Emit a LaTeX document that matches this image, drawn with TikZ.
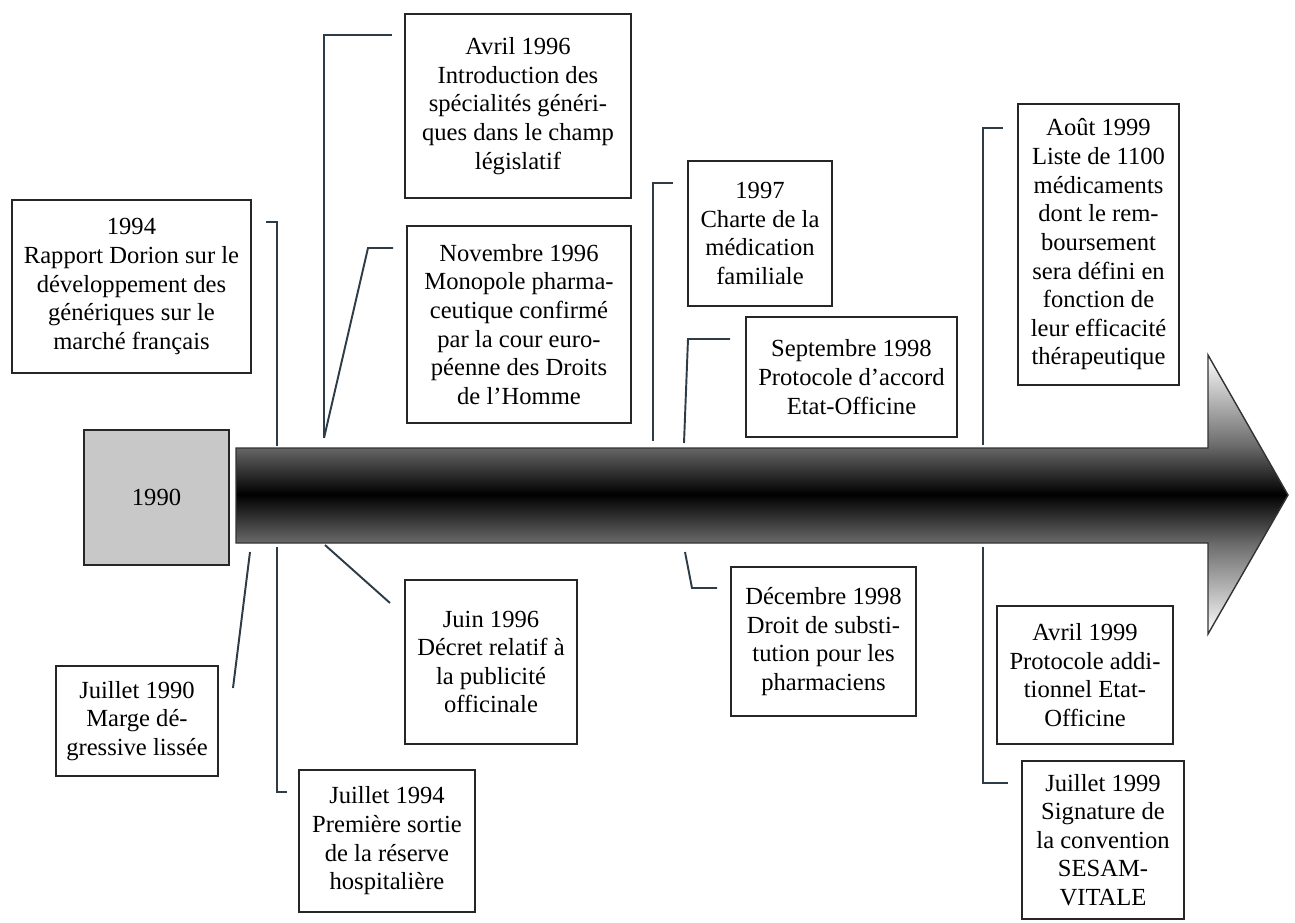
\documentclass[tikz,border=0pt]{standalone}
\usepackage{fontspec}
\setmainfont{Liberation Serif}
\usetikzlibrary{shapes, shadings}
\pgfdeclareverticalshading{tube}{100bp}{color(0bp)=(white); color(25bp)=(white); color(41bp)=(black!57); color(50bp)=(black); color(59bp)=(black!57); color(75bp)=(white); color(100bp)=(white)}
\definecolor{linkcol}{RGB}{45,60,70}
\definecolor{boxgray}{RGB}{200,200,200}

\begin{document}
\begin{tikzpicture}[x=0.02cm, y=-0.02cm,
	evt/.style={draw=black!85, line width=1.1pt, fill=white, align=center, inner sep=0pt, font=\fontsize{14}{16.3}\selectfont},
	link/.style={draw=linkcol, line width=1.1pt}]
		\useasboundingbox (0,0) rectangle (1295,923);

		% Time arrow
		\shadedraw[shading=tube, draw=black!80, line width=0.8pt] (236,448) -- (1208,448) -- (1208,355) -- (1288,495) -- (1208,634) -- (1208,543) -- (236,543) -- cycle;

		% Start year
		\node[evt, fill=boxgray, minimum width=2.90cm, minimum height=2.70cm] (y90) at (156.5,497.5) {1990};

		% Events above the arrow
		\node[evt, minimum width=4.78cm, minimum height=3.46cm] (r94) at (131.5,286.5) {1994\\Rapport Dorion sur le\\développement des\\génériques sur le\\marché français};
		\node[evt, minimum width=4.52cm, minimum height=3.68cm] (avr96) at (518,106) {Avril 1996\\Introduction des\\spécialités généri-\\ques dans le champ\\législatif};
		\node[evt, minimum width=4.48cm, minimum height=3.94cm] (nov96) at (519,324.5) {Novembre 1996\\Monopole pharma-\\ceutique confirmé\\par la cour euro-\\péenne des Droits\\de l’Homme};
		\node[evt, minimum width=2.88cm, minimum height=2.90cm] (c97) at (760,233.5) {1997\\Charte de la\\médication\\familiale};
		\node[evt, minimum width=4.22cm, minimum height=2.40cm] (sep98) at (851.5,377) {Septembre 1998\\Protocole d’accord\\Etat-Officine};
		\node[evt, minimum width=3.22cm, minimum height=5.62cm] (aou99) at (1098.5,244.5) {Août 1999\\Liste de 1100\\médicaments\\dont le rem-\\boursement\\sera défini en\\fonction de\\leur efficacité\\thérapeutique};

		% Events below the arrow
		\node[evt, minimum width=3.24cm, minimum height=2.20cm] (jul90) at (137,721) {Juillet 1990\\Marge dé-\\gressive lissée};
		\node[evt, minimum width=3.52cm, minimum height=2.84cm] (jul94) at (387,841) {Juillet 1994\\Première sortie\\de la réserve\\hospitalière};
		\node[evt, minimum width=3.44cm, minimum height=3.28cm] (jun96) at (491,662) {Juin 1996\\Décret relatif à\\la publicité\\officinale};
		\node[evt, minimum width=3.70cm, minimum height=2.98cm] (dec98) at (823.5,641.5) {Décembre 1998\\Droit de substi-\\tution pour les\\pharmaciens};
		\node[evt, minimum width=3.52cm, minimum height=2.76cm] (avr99) at (1085,675) {Avril 1999\\Protocole addi-\\tionnel Etat-\\Officine};
		\node[evt, minimum width=3.24cm, minimum height=3.16cm] (jul99) at (1103,840) {Juillet 1999\\Signature de\\la convention\\SESAM-\\VITALE};

		% Connector ends
		\coordinate (r94a) at (266,222);   \coordinate (r94b) at (277,446);
		\coordinate (jul94a) at (287,792); \coordinate (jul94b) at (277,547);
		\coordinate (avr96a) at (392,35);  \coordinate (m96) at (324,438);
		\coordinate (nov96a) at (393,248); \coordinate (nov96k) at (368,248);
		\coordinate (jun96a) at (390,603); \coordinate (jun96b) at (325,545);
		\coordinate (jul90a) at (233,688); \coordinate (jul90b) at (250,552);
		\coordinate (c97a) at (673,183);   \coordinate (c97b) at (653,441);
		\coordinate (sep98a) at (730,339); \coordinate (sep98k) at (688,339); \coordinate (sep98b) at (684,443);
		\coordinate (dec98a) at (717,588); \coordinate (dec98k) at (692,588); \coordinate (dec98b) at (685,552);
		\coordinate (aou99a) at (1003,128); \coordinate (aou99b) at (983,445);
		\coordinate (jul99a) at (1008,783); \coordinate (jul99b) at (983,547);

		% Connectors
		\draw[link] (r94a) -- (r94a -| r94b) -- (r94b);
		\draw[link] (jul94a) -- (jul94a -| jul94b) -- (jul94b);
		\draw[link] (avr96a) -- (avr96a -| m96) -- (m96);
		\draw[link] (nov96a) -- (nov96k) -- (m96);
		\draw[link] (jun96a) -- (jun96b);
		\draw[link] (jul90a) -- (jul90b);
		\draw[link] (c97a) -- (c97a -| c97b) -- (c97b);
		\draw[link] (sep98a) -- (sep98k) -- (sep98b);
		\draw[link] (dec98a) -- (dec98k) -- (dec98b);
		\draw[link] (aou99a) -- (aou99a -| aou99b) -- (aou99b);
		\draw[link] (jul99a) -- (jul99a -| jul99b) -- (jul99b);
	\end{tikzpicture}
\end{document}
